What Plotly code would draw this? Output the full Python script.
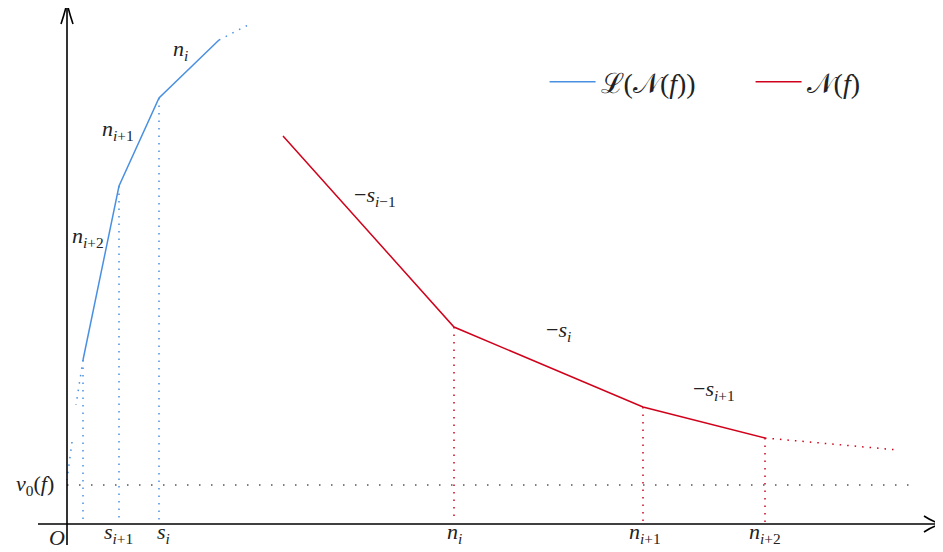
import plotly.graph_objects as go

# Coordinates: origin O at the crossing of the axes (units ~ pixels)
# Legendre transform L(N(f)) -- blue polygon (x = slopes s, y = values)
blue_x = [16, 52, 92, 152]
blue_y = [164, 338, 426, 484]
blue_ext_x = [152, 185]
blue_ext_y = [484, 501]
blue_low1_x = [16, 9]
blue_low1_y = [164, 119]
blue_low2_x = [5, 0]
blue_low2_y = [82, 44]

# Newton polygon N(f) -- red polygon
red_x = [216, 387, 576, 698]
red_y = [388, 197, 117, 86]
red_ext_x = [698, 831]
red_ext_y = [86, 74]

v0_level = 39
v0_xmax = 845

blue_drop_x = [16, 52, 92]
blue_drop_y = [164, 338, 426]
red_drop_x = [387, 576, 698]
red_drop_y = [197, 117, 86]

BLUE = "#4A90E2"
RED = "#D0021B"
FONT = "'Liberation Serif', 'DejaVu Serif', serif"

fig = go.Figure()

fig.add_trace(go.Scatter(x=blue_x, y=blue_y, mode="lines",
                         line=dict(color=BLUE, width=1.5),
                         name="ℒ(𝒩(<i>f</i>))"))
fig.add_trace(go.Scatter(x=red_x, y=red_y, mode="lines",
                         line=dict(color=RED, width=1.5),
                         name="𝒩(<i>f</i>)"))

dot_blue = dict(color=BLUE, width=1.5, dash="1.5px,6px")
dot_red = dict(color=RED, width=1.5, dash="1.5px,6px")
for xs, ys in [(blue_ext_x, blue_ext_y), (blue_low1_x, blue_low1_y), (blue_low2_x, blue_low2_y)]:
    fig.add_trace(go.Scatter(x=xs, y=ys, mode="lines", line=dot_blue, showlegend=False, hoverinfo="skip"))
fig.add_trace(go.Scatter(x=red_ext_x, y=red_ext_y, mode="lines", line=dot_red, showlegend=False, hoverinfo="skip"))

for x, y in zip(blue_drop_x, blue_drop_y):
    fig.add_trace(go.Scatter(x=[x, x], y=[y, 4], mode="lines", line=dot_blue, showlegend=False, hoverinfo="skip"))
for x, y in zip(red_drop_x, red_drop_y):
    fig.add_trace(go.Scatter(x=[x, x], y=[y, 2], mode="lines", line=dot_red, showlegend=False, hoverinfo="skip"))

fig.add_trace(go.Scatter(x=[0, v0_xmax], y=[v0_level, v0_level], mode="lines",
                         line=dict(color="#555555", width=1.5, dash="1.5px,10.5px"),
                         showlegend=False, hoverinfo="skip"))

# Axes with open arrowheads
ax = dict(color="black", width=1.6)
fig.add_shape(type="line", x0=-29, y0=0, x1=875, y1=0, line=ax)
fig.add_shape(type="line", x0=0, y0=-21, x1=0, y1=521, line=ax)
fig.add_shape(type="path", path="M 857,8 Q 866,2 875,0 Q 866,-2 857,-8", line=ax)
fig.add_shape(type="path", path="M -6,500 Q -2,512 0,521 Q 2,512 6,500", line=ax)

labels = [
    (113, 474, "<i>n<sub>i</sub></i>"),
    (51, 394, "<i>n</i><sub><i>i</i>+1</sub>"),
    (21, 287, "<i>n</i><sub><i>i</i>+2</sub>"),
    (308, 328, "−<i>s</i><sub><i>i</i>−1</sub>"),
    (491, 193, "−<i>s<sub>i</sub></i>"),
    (647, 134, "−<i>s</i><sub><i>i</i>+1</sub>"),
    (-32, 39, "<i>v</i><sub>0</sub>(<i>f</i>)"),
    (-10, -13, "<i>O</i>"),
    (51, -9, "<i>s</i><sub><i>i</i>+1</sub>"),
    (96, -9, "<i>s<sub>i</sub></i>"),
    (387, -9, "<i>n<sub>i</sub></i>"),
    (578, -9, "<i>n</i><sub><i>i</i>+1</sub>"),
    (698, -9, "<i>n</i><sub><i>i</i>+2</sub>"),
]
for x, y, t in labels:
    fig.add_annotation(x=x, y=y, text=t, showarrow=False,
                       font=dict(family=FONT, size=22, color="#222222"))

fig.update_layout(
    width=943, height=552,
    margin=dict(l=0, r=0, t=0, b=0, autoexpand=False),
    paper_bgcolor="white", plot_bgcolor="white",
    xaxis=dict(range=[-59, 884], visible=False, fixedrange=True),
    yaxis=dict(range=[-36, 516], visible=False, fixedrange=True),
    legend=dict(orientation="h", x=0.569, y=0.866, xanchor="left", yanchor="middle",
                font=dict(family=FONT, size=28, color="#222222"),
                entrywidth=145, itemwidth=46,
                bgcolor="rgba(0,0,0,0)"),
    showlegend=True,
)

fig.write_html("out.html")
